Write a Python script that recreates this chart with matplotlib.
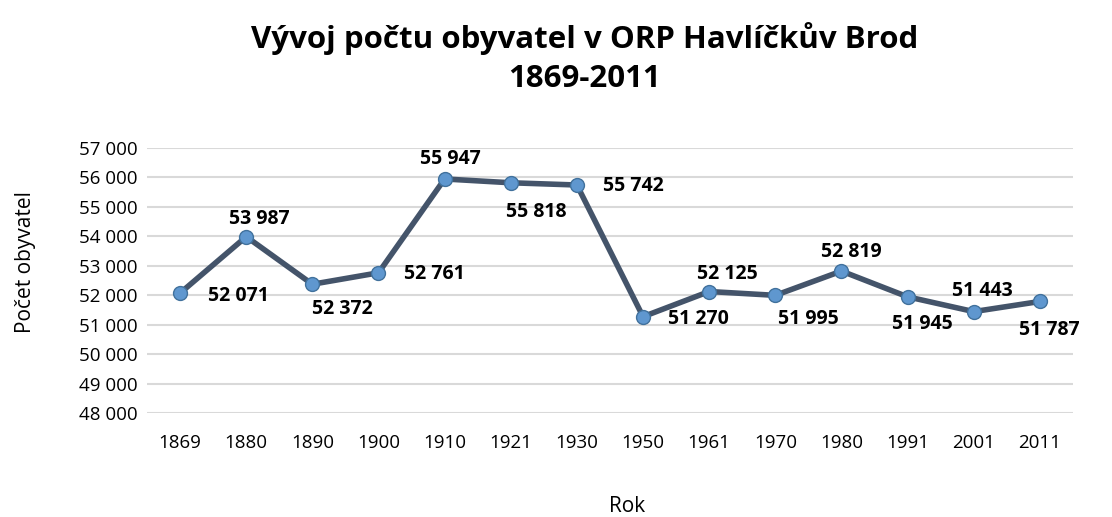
import matplotlib.pyplot as plt

years = ['1869', '1880', '1890', '1900', '1910', '1921', '1930',
         '1950', '1961', '1970', '1980', '1991', '2001', '2011']
population = [52071, 53987, 52372, 52761, 55947, 55818, 55742,
              51270, 52125, 51995, 52819, 51945, 51443, 51787]
y_ticks = list(range(48000, 57001, 1000))

# posun popisku od bodu v pixelech (x doprava, y nahoru)
label_offsets = [(58, -3), (13, 18), (30, -25), (56, -1), (6, 20), (25, -29), (56, -1),
                 (55, -2), (18, 18), (33, -24), (10, 19), (15, -27), (9, 21), (9, -29)]

plt.rcParams['font.family'] = ['Open Sans', 'DejaVu Sans']


def fmt(v):
    return '{:,}'.format(v).replace(',', ' ')


fig = plt.figure(figsize=(11.12, 5.17), dpi=100)
ax = fig.add_axes([0.1322, 0.2012, 0.8327, 0.5126])

x = list(range(len(years)))
ax.plot(x, population, color='#44546a', lw=4, marker='o', ms=10,
        markerfacecolor='#5f97cf', markeredgecolor='#41719c', markeredgewidth=1, zorder=3)

for xi, v, (dx, dy) in zip(x, population, label_offsets):
    ax.annotate(fmt(v), (xi, v), xytext=(dx * 0.72, dy * 0.72), textcoords='offset points',
                ha='center', va='center', fontsize=14, fontweight='bold', color='black')

ax.set_xlim(-0.5, len(years) - 0.5)
ax.set_ylim(48000, 57000)
ax.set_yticks(y_ticks)
ax.set_yticklabels([fmt(v) for v in y_ticks])
ax.set_xticks(x)
ax.set_xticklabels(years)
ax.tick_params(axis='both', length=0, labelsize=13.5)
ax.tick_params(axis='x', pad=15)
ax.tick_params(axis='y', pad=7)
ax.grid(axis='y', color='#d9d9d9', lw=1.5, zorder=0)
ax.set_axisbelow(True)
for s in ax.spines.values():
    s.set_visible(False)

fig.text(0.023, 0.493, 'Počet obyvatel', rotation=90, ha='center', va='center', fontsize=15)
fig.text(0.564, 0.02, 'Rok', ha='center', va='center', fontsize=15)
fig.text(0.526, 0.888, 'Vývoj počtu obyvatel v ORP Havlíčkův Brod\n1869-2011',
         ha='center', va='center', fontsize=22.5, fontweight='bold', linespacing=1.4)

fig.savefig('out.png', dpi=100)
